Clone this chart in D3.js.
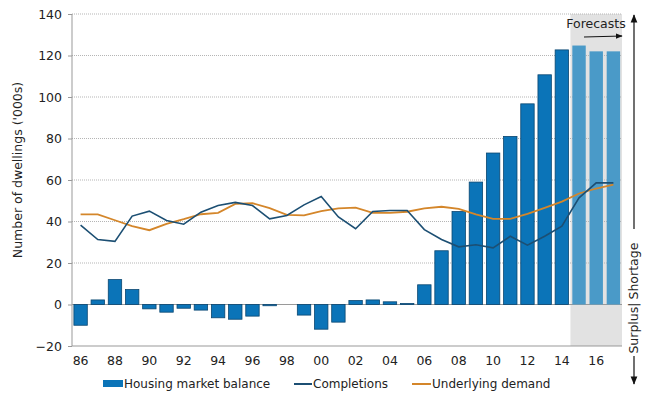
<!DOCTYPE html>
<html><head><meta charset="utf-8">
<script src="https://cdn.jsdelivr.net/npm/d3@7"></script>
<style>
html,body{margin:0;padding:0;background:#fff;}
svg{display:block;font-family:"DejaVu Sans",Verdana,sans-serif;}
</style></head>
<body>
<svg id="chart" width="649" height="398"></svg>
<script>
const years = [1986,1987,1988,1989,1990,1991,1992,1993,1994,1995,1996,1997,1998,1999,2000,2001,2002,2003,2004,2005,2006,2007,2008,2009,2010,2011,2012,2013,2014,2015,2016,2017];
const balance = [-10,2.2,12,7.2,-2.1,-3.7,-1.8,-2.7,-6.4,-7.1,-5.6,-0.6,0,-5.1,-11.9,-8.5,1.9,2.2,1.3,0.5,9.5,25.9,44.8,59,73,81,96.7,110.7,122.7,124.8,122,122];
const completions = [38.2,31.3,30.4,42.6,45,40.5,38.7,44.5,47.7,49.2,47.7,41.3,42.9,48,52,42.2,36.5,44.8,45.3,45.3,36.1,31.3,27.8,28.8,27.3,32.9,28.6,32.9,37.8,51.4,58.6,58.6];
const demand = [43.4,43.4,40.6,37.8,35.8,38.9,41.1,43.5,44.2,48.5,48.8,46.4,43.2,43,45,46.3,46.7,44.2,44.2,44.7,46.3,47.1,46.1,43.4,41.3,41.3,43.7,46.6,49.6,53.5,55.9,57.8];
const forecastYears = [2015,2016,2017];
const yTicks = [-20,0,20,40,60,80,100,120,140];
const xTickYears = [1986,1988,1990,1992,1994,1996,1998,2000,2002,2004,2006,2008,2010,2012,2014,2016];
const legendLabels = ["Housing market balance","Completions","Underlying demand"];

const svg = d3.select("#chart");
const pLeft = 72, pRight = 622, pTop = 14, pBottom = 346;
const x = d3.scaleBand().domain(years).range([pLeft, pRight]).paddingInner(0.22).paddingOuter(0.11);
const step = x.step();
const y = d3.scaleLinear().domain([-20,140]).range([pBottom, pTop]);
const cx = d => x(d) + x.bandwidth()/2;

// forecast shading
const shadeX = x(forecastYears[0]) - step*x.paddingInner()/2;
svg.append("rect")
  .attr("x", shadeX).attr("y", pTop).attr("width", pRight - shadeX)
  .attr("height", pBottom - pTop).attr("fill", "#e2e2e2");

// gridlines
svg.append("g").selectAll("line").data(yTicks.filter(t => t !== -20)).join("line")
  .attr("x1", pLeft).attr("x2", pRight)
  .attr("y1", d => y(d)).attr("y2", d => y(d))
  .attr("stroke", d => d === 0 ? "#9a9a9a" : "#b5b5b5")
  .attr("stroke-width", 1)
  .attr("stroke-dasharray", d => d === 0 ? null : "1,1");

// bars
svg.append("g").selectAll("rect").data(years).join("rect")
  .attr("x", d => x(d))
  .attr("width", x.bandwidth())
  .attr("y", (d,i) => y(Math.max(0, balance[i])))
  .attr("height", (d,i) => Math.abs(y(balance[i]) - y(0)))
  .attr("fill", d => forecastYears.includes(d) ? "#4a9ac8" : "#0b74b8")
  .attr("stroke", d => forecastYears.includes(d) ? "none" : "#0a4670")
  .attr("stroke-width", 0.8);

// axes lines
svg.append("line").attr("x1", pLeft).attr("x2", pLeft).attr("y1", pTop).attr("y2", pBottom).attr("stroke", "#999");
svg.append("line").attr("x1", pLeft).attr("x2", pRight).attr("y1", pBottom).attr("y2", pBottom).attr("stroke", "#999");
// y axis
const yAxis = svg.append("g").attr("transform", `translate(${pLeft},0)`)
  .call(d3.axisLeft(y).tickValues(yTicks).tickSize(4).tickPadding(6).tickFormat(d3.format("d")));
yAxis.select(".domain").remove();
yAxis.selectAll(".tick line").attr("stroke", "#999");
yAxis.selectAll("text").attr("font-size", 12.5).attr("fill", "#222").attr("font-family", "DejaVu Sans, Verdana, sans-serif");

// x axis
const xAxis = svg.append("g").attr("transform", `translate(0,${pBottom})`)
  .call(d3.axisBottom(x).tickValues(xTickYears).tickSize(0).tickPadding(10).tickFormat(d => String(d).slice(2)));
xAxis.select(".domain").remove();
xAxis.selectAll("text").attr("font-size", 12.5).attr("fill", "#222").attr("font-family", "DejaVu Sans, Verdana, sans-serif");

// lines
const line = d3.line().x((d,i) => cx(years[i])).y(d => y(d));
svg.append("path").datum(demand).attr("d", line).attr("fill", "none").attr("stroke", "#d4862a").attr("stroke-width", 1.8);
svg.append("path").datum(completions).attr("d", line).attr("fill", "none").attr("stroke", "#1c4f73").attr("stroke-width", 1.6);

// y title
svg.append("text").attr("transform", `translate(22,${(pTop+pBottom)/2 - 10}) rotate(-90)`)
  .attr("text-anchor", "middle").attr("font-size", 12.5).attr("fill", "#222")
  .text("Number of dwellings ('000s)");

// defs arrow
const defs = svg.append("defs");
defs.append("marker").attr("id", "arr").attr("viewBox", "0 0 10 10").attr("refX", 9).attr("refY", 5)
  .attr("markerWidth", 7).attr("markerHeight", 7).attr("orient", "auto-start-reverse")
  .append("path").attr("d", "M0,1 L10,5 L0,9 Z").attr("fill", "#111");

// forecasts
svg.append("text").attr("x", 596).attr("y", 28).attr("text-anchor", "middle").attr("font-size", 12.5).attr("fill", "#222").text("Forecasts");
svg.append("line").attr("x1", 584).attr("x2", 622).attr("y1", 37).attr("y2", 36).attr("stroke", "#111").attr("stroke-width", 1).attr("marker-end", "url(#arr)");

// right annotation
const ax = 634;
svg.append("line").attr("x1", ax).attr("x2", ax).attr("y1", 229).attr("y2", 15).attr("stroke", "#111").attr("stroke-width", 1.2).attr("marker-end", "url(#arr)");
svg.append("line").attr("x1", ax).attr("x2", ax).attr("y1", 356).attr("y2", 384).attr("stroke", "#111").attr("stroke-width", 1.2).attr("marker-end", "url(#arr)");
svg.append("text").attr("transform", `translate(${ax+4},${y(0) - 2}) rotate(-90)`)
  .attr("text-anchor", "end").attr("font-size", 12.5).attr("fill", "#222")
  .text("Surplus|");
svg.append("text").attr("transform", `translate(${ax+4},${y(0) - 5}) rotate(-90)`)
  .attr("text-anchor", "start").attr("font-size", 12.5).attr("fill", "#222")
  .text("Shortage");

// legend
const lg = svg.append("g").attr("font-size", 12).attr("fill", "#222");
lg.append("rect").attr("x", 103).attr("y", 380).attr("width", 20).attr("height", 7).attr("fill", "#0b74b8");
lg.append("text").attr("x", 124).attr("y", 388).text(legendLabels[0]);
lg.append("line").attr("x1", 294).attr("x2", 312).attr("y1", 384).attr("y2", 384).attr("stroke", "#1c4f73").attr("stroke-width", 2);
lg.append("text").attr("x", 313).attr("y", 388).text(legendLabels[1]);
lg.append("line").attr("x1", 412).attr("x2", 431).attr("y1", 384).attr("y2", 384).attr("stroke", "#d4862a").attr("stroke-width", 2);
lg.append("text").attr("x", 432).attr("y", 388).text(legendLabels[2]);
</script>
</body></html>
